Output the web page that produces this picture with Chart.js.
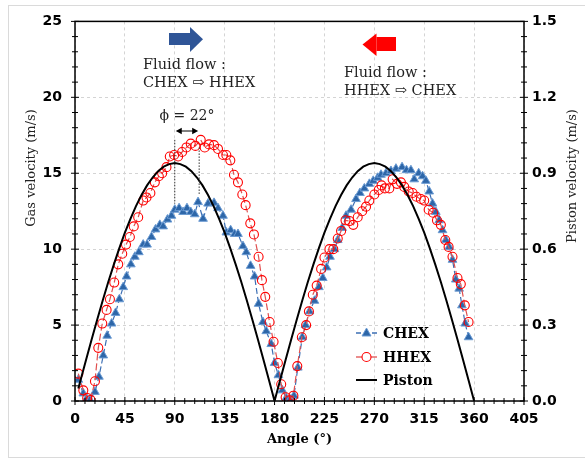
<!DOCTYPE html>
<html lang="en">
<head>
  <meta charset="UTF-8">
  <title>Gas and piston velocity</title>
  <script src="https://cdn.jsdelivr.net/npm/chart.js"></script>
  <style>
    body { margin: 0; background: #fff; }
    #wrap { position: relative; width: 585px; height: 459px; overflow: hidden; }
    #frame { position: absolute; left: 8px; top: 5px; width: 600px; height: 451px; border: 1px solid #dadada; }
    canvas { position: absolute; left: 0; top: 0; }
  </style>
</head>
<body>
  <div id="wrap">
    <div id="frame"></div>
    <canvas id="chart" width="585" height="459"></canvas>
  </div>

  <script>
    // crank angle (deg) / gas velocity (m/s)
    const chexAngle = [3,7.5,10.5,13.5,18,21.6,25.5,29,33,36.6,40,43.5,46.5,50.4,54,57.6,61.5,65,69,72.6,
      76.5,79.5,83.4,87,90,93.9,97.5,101,104.4,108,111,115.5,120,125.4,129,133.5,136.5,140.4,144,147,
      151.5,154.5,158.4,162,165.6,169.5,172.5,177,180,183.5,187,190.5,194,197.5,201,205,208,211.5,216,220,
      223.5,227,230,234,237,241,244.5,249,253.5,257,261,265.5,269,273,276,280.5,285,289.5,295,299,
      303,306,310,313.5,316.5,319.5,322.5,325.5,328.5,331.5,334.5,337.5,340.5,343.5,346.5,349,352,355];
    const chexGas = [1.4,0.5,0.15,0.07,0.6,1.6,3.0,4.3,5.1,5.8,6.7,7.5,8.2,9.0,9.5,9.8,10.3,10.3,10.8,11.3,
      11.6,11.5,11.95,12.2,12.6,12.7,12.45,12.7,12.45,12.3,13.1,12.0,13.0,13.05,12.7,12.2,11.1,11.25,11.0,11.0,
      10.2,9.8,8.9,8.2,6.4,5.2,4.6,3.75,2.5,1.7,0.7,0.2,0.1,0.35,2.2,4.2,5.0,5.9,6.6,7.5,
      8.1,8.8,9.5,10.0,10.6,11.4,12.2,12.6,13.3,13.7,14.0,14.3,14.5,14.7,14.9,15.0,15.15,15.3,15.4,15.2,
      15.2,14.6,15.0,14.8,14.5,13.8,13.0,12.45,11.9,11.25,10.6,10.15,9.3,8.0,7.4,6.3,5.1,4.2];

    const hhexAngle = [3,7.5,11,14,18,21,24.6,28.5,31.5,35.4,39,42.6,46,49.5,53,57,61.5,64.5,68,72,
      75.6,78.6,82.5,85.5,89.4,93,96.6,100.5,104.4,108.6,113.4,117,120.9,125.4,129,133.5,136.5,140.1,143.4,147,
      150.9,153.9,158.1,161.4,165.6,168.6,171.6,175.5,179.1,183,186,190,193.5,197,200.5,204.6,208.5,211,214.5,218,
      222,225,229.5,233,237,240,244,247.5,251,255,259,262.5,265.5,270,274,276.5,279.5,283.5,286.5,290.5,
      294,297,301,304.5,308,312,315,319,323,326.5,330,334,337,340.5,345,348,351.6,355];
    const hhexGas = [1.8,0.7,0.2,0.07,1.3,3.5,5.1,6.0,6.7,7.8,9.0,9.7,10.3,10.8,11.5,12.1,13.2,13.4,13.7,14.4,
      14.8,15.0,15.4,16.1,16.2,16.1,16.4,16.7,16.95,16.8,17.2,16.7,16.9,16.85,16.6,16.2,16.2,15.85,14.9,14.4,
      13.6,12.9,11.7,10.97,9.5,7.96,6.86,5.2,3.9,2.5,1.1,0.25,0.05,0.35,2.3,4.2,5.0,5.9,7.0,7.6,
      8.7,9.45,10.0,10.0,10.7,11.2,11.9,11.85,11.6,12.1,12.5,12.8,13.2,13.6,13.9,14.2,14.0,14.0,14.6,14.3,
      14.4,14.1,13.8,13.7,13.45,13.3,13.2,12.6,12.4,11.9,11.6,10.6,10.15,9.5,8.1,7.7,6.3,5.2];

    // piston velocity (m/s), right axis
    const pistonAngle = [3,5,10,15,20,25,30,35,40,45,50,55,60,65,70,75,80,85,90,95,100,105,110,115,120,
      125,130,135,140,145,150,155,160,165,170,175,180,185,190,195,200,205,210,215,220,225,230,235,240,
      245,250,255,260,265,270,275,280,285,290,295,300,305,310,315,320,325,330,335,340,345,350,355,360];
    const pistonVel = [0.049,0.082,0.163,0.243,0.321,0.397,0.470,0.539,0.604,0.665,0.720,0.770,0.814,0.852,
      0.883,0.908,0.926,0.936,0.940,0.936,0.926,0.908,0.883,0.852,0.814,0.770,0.720,0.665,0.604,0.539,0.470,
      0.397,0.321,0.243,0.163,0.082,0.000,0.082,0.163,0.243,0.321,0.397,0.470,0.539,0.604,0.665,0.720,0.770,
      0.814,0.852,0.883,0.908,0.926,0.936,0.940,0.936,0.926,0.908,0.883,0.852,0.814,0.770,0.720,0.665,0.604,
      0.539,0.470,0.397,0.321,0.243,0.163,0.082,0.000];

    const xTicks = [0,45,90,135,180,225,270,315,360,405];

    const pairs = (xs, ys) => xs.map((v, i) => ({ x: v, y: ys[i] }));

    const SERIF = '"DejaVu Serif", serif';
    const SANS = '"DejaVu Sans", sans-serif';

    function arrowHead(ctx, x, y, dir, s) {
      ctx.beginPath();
      ctx.moveTo(x, y);
      ctx.lineTo(x - dir * s, y - s * 0.55);
      ctx.lineTo(x - dir * s, y + s * 0.55);
      ctx.closePath();
      ctx.fill();
    }

    const deco = {
      id: 'deco',
      afterDraw(chart) {
        const { ctx, chartArea: a, scales } = chart;
        const sx = scales.x, sy = scales.y, sy2 = scales.y2;
        ctx.save();

        // plot frame
        ctx.strokeStyle = '#000';
        ctx.lineWidth = 1.5;
        ctx.strokeRect(a.left, a.top, a.right - a.left, a.bottom - a.top);

        // crossing major / minor ticks
        ctx.lineWidth = 1;
        ctx.beginPath();
        for (let v = 0; v <= 25; v++) {
          const py = sy.getPixelForValue(v), l = v % 5 ? 3 : 4;
          ctx.moveTo(a.left - l, py); ctx.lineTo(a.left + l, py);
        }
        for (let i = 0; i <= 25; i++) {
          const py = sy2.getPixelForValue(i * 0.06), l = i % 5 ? 3 : 4;
          ctx.moveTo(a.right - l, py); ctx.lineTo(a.right + l, py);
        }
        for (let v = 0; v <= 405; v += 9) {
          const px = sx.getPixelForValue(v), l = v % 45 ? 3 : 4;
          ctx.moveTo(px, a.bottom - l); ctx.lineTo(px, a.bottom + l);
        }
        ctx.stroke();

        // axis titles
        ctx.fillStyle = '#222';
        ctx.textAlign = 'center';
        ctx.textBaseline = 'middle';
        ctx.font = '13px ' + SERIF;
        ctx.save(); ctx.translate(32, 168); ctx.rotate(-Math.PI / 2);
        ctx.fillText('Gas velocity (m/s)', 0, 0); ctx.restore();
        ctx.save(); ctx.translate(573, 176); ctx.rotate(-Math.PI / 2);
        ctx.fillText('Piston velocity (m/s)', 0, 0); ctx.restore();
        ctx.fillStyle = '#000';
        ctx.font = 'bold 13px ' + SERIF;
        ctx.fillText('Angle (°)', (a.left + a.right) / 2, 440);

        // flow direction arrows
        ctx.fillStyle = '#2f5597';
        ctx.fillRect(169, 33, 21, 12);
        ctx.beginPath(); ctx.moveTo(190, 27); ctx.lineTo(203, 39.3); ctx.lineTo(190, 52); ctx.closePath(); ctx.fill();
        ctx.fillStyle = '#ff0000';
        ctx.fillRect(376.5, 37, 19.5, 14);
        ctx.beginPath(); ctx.moveTo(376.5, 33.5); ctx.lineTo(362.5, 44.5); ctx.lineTo(376.5, 56); ctx.closePath(); ctx.fill();

        // flow labels
        ctx.fillStyle = '#222';
        ctx.textAlign = 'left';
        ctx.textBaseline = 'alphabetic';
        ctx.font = '14.5px ' + SERIF;
        ctx.fillText('Fluid flow :', 143, 69);
        ctx.fillText('CHEX \u21E8 HHEX', 143, 87);
        ctx.fillText('Fluid flow :', 344, 77);
        ctx.fillText('HHEX \u21E8 CHEX', 344, 95);

        // phase shift marker
        const p1 = sx.getPixelForValue(90), p2 = sx.getPixelForValue(112);
        ctx.strokeStyle = '#333';
        ctx.setLineDash([1.5, 1.5]);
        ctx.beginPath();
        ctx.moveTo(p1, sy.getPixelForValue(17.2)); ctx.lineTo(p1, sy.getPixelForValue(13.0));
        ctx.moveTo(p2, sy.getPixelForValue(16.7)); ctx.lineTo(p2, sy.getPixelForValue(13.6));
        ctx.stroke();
        ctx.setLineDash([]);
        const ay = 131;
        ctx.strokeStyle = '#000'; ctx.fillStyle = '#000';
        ctx.beginPath(); ctx.moveTo(p1 + 3, ay); ctx.lineTo(p2 - 3, ay); ctx.stroke();
        arrowHead(ctx, p1 + 1, ay, -1, 6);
        arrowHead(ctx, p2 - 1, ay, 1, 6);
        ctx.fillStyle = '#222';
        ctx.textAlign = 'center';
        ctx.font = '14px ' + SERIF;
        ctx.fillText('\u03D5 = 22°', (p1 + p2) / 2, 120);

        // legend
        const rows = [
          { label: 'CHEX', y: 333, color: '#3c6fb4', dash: [5, 3], mark: 'tri' },
          { label: 'HHEX', y: 357, color: '#e05050', dash: [], mark: 'circ' },
          { label: 'Piston', y: 380, color: '#000', dash: [], mark: null }
        ];
        rows.forEach(r => {
          ctx.strokeStyle = r.color;
          ctx.lineWidth = r.mark ? 1.3 : 2;
          ctx.setLineDash(r.dash);
          ctx.beginPath(); ctx.moveTo(356, r.y); ctx.lineTo(377, r.y); ctx.stroke();
          ctx.setLineDash([]);
          if (r.mark === 'tri') {
            ctx.fillStyle = '#2d66a8'; ctx.strokeStyle = '#6b9bd3'; ctx.lineWidth = 1;
            ctx.beginPath(); ctx.moveTo(366.5, r.y - 5); ctx.lineTo(371, r.y + 3); ctx.lineTo(362, r.y + 3); ctx.closePath();
            ctx.fill(); ctx.stroke();
          } else if (r.mark === 'circ') {
            ctx.fillStyle = '#fff'; ctx.strokeStyle = '#ff0000'; ctx.lineWidth = 1.1;
            ctx.beginPath(); ctx.arc(366.5, r.y, 4.5, 0, Math.PI * 2); ctx.fill(); ctx.stroke();
          }
          ctx.fillStyle = '#000';
          ctx.font = 'bold 14px ' + SERIF;
          ctx.textAlign = 'left';
          ctx.textBaseline = 'middle';
          ctx.fillText(r.label, 383, r.y + 1);
        });

        ctx.restore();
      }
    };

    new Chart(document.getElementById('chart'), {
      type: 'scatter',
      data: {
        datasets: [
          {
            label: 'CHEX',
            data: pairs(chexAngle, chexGas),
            showLine: true,
            borderColor: '#3c6fb4',
            borderWidth: 1.2,
            borderDash: [6, 3],
            pointStyle: 'triangle',
            pointRadius: 5,
            pointBackgroundColor: '#2d66a8',
            pointBorderColor: '#6b9bd3',
            pointBorderWidth: 1,
            yAxisID: 'y',
            order: 3
          },
          {
            label: 'HHEX',
            data: pairs(hhexAngle, hhexGas),
            showLine: true,
            borderColor: '#e05050',
            borderWidth: 1.2,
            borderDash: [7, 3],
            pointStyle: 'circle',
            pointRadius: 4.5,
            pointBackgroundColor: 'rgba(255,255,255,0)',
            pointBorderColor: '#ff0000',
            pointBorderWidth: 1.1,
            yAxisID: 'y',
            order: 2
          },
          {
            label: 'Piston',
            data: pairs(pistonAngle, pistonVel),
            showLine: true,
            borderColor: '#000',
            borderWidth: 2,
            pointRadius: 0,
            yAxisID: 'y2',
            order: 1
          }
        ]
      },
      options: {
        responsive: false,
        animation: false,
        devicePixelRatio: 1,
        layout: { padding: { top: 21, left: 0, right: 0, bottom: 0 } },
        plugins: { legend: { display: false }, tooltip: { enabled: false } },
        scales: {
          x: {
            type: 'linear', min: 0, max: 405,
            afterFit: s => { s.height = 58; },
            afterBuildTicks: s => { s.ticks = xTicks.map(v => ({ value: v })); },
            ticks: { color: '#000', padding: 10, maxRotation: 0, autoSkip: false, font: { family: SANS, size: 14, weight: 'bold' } },
            grid: { color: '#d4d4d4', drawTicks: false },
            border: { display: false, dash: [3, 3] }
          },
          y: {
            position: 'left', min: 0, max: 25,
            afterFit: s => { s.width = 75; },
            ticks: { stepSize: 5, color: '#000', padding: 13, font: { family: SANS, size: 14, weight: 'bold' } },
            grid: { color: '#d4d4d4', drawTicks: false },
            border: { display: false, dash: [3, 3] }
          },
          y2: {
            position: 'right', min: 0, max: 1.5,
            afterFit: s => { s.width = 61; },
            ticks: { stepSize: 0.3, color: '#000', padding: 8, font: { family: SANS, size: 14, weight: 'bold' }, callback: v => Number(v).toFixed(1) },
            grid: { display: false, drawTicks: false },
            border: { display: false }
          }
        }
      },
      plugins: [deco]
    });
  </script>
</body>
</html>
